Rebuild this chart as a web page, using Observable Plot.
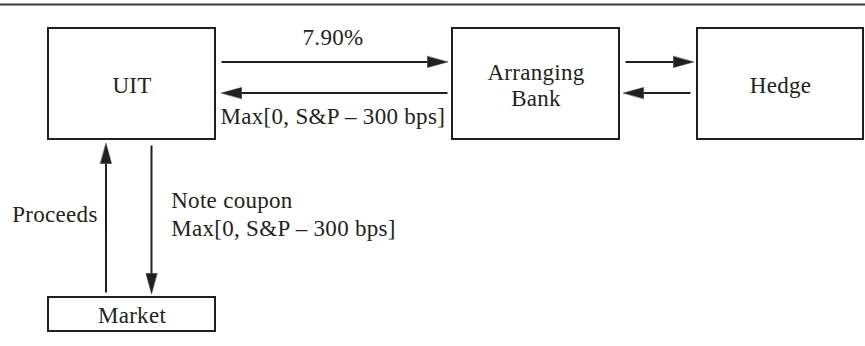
<!DOCTYPE html>
<html><head><meta charset="utf-8">
<script src="https://cdn.jsdelivr.net/npm/d3@7"></script>
<script src="https://cdn.jsdelivr.net/npm/@observablehq/plot@0.6"></script>
<style>html,body{margin:0;padding:0;background:#fff} svg{display:block}</style>
</head><body><div id="chart"></div>
<script>
// Diagram nodes (labels) and their layout boxes in diagram units
const nodeNames = ["UIT", "Arranging\nBank", "Hedge", "Market"];
const nodeLeft = [48, 452, 697, 48];
const nodeRight = [215, 619, 863, 215];
const nodeTop = [28, 28, 28, 297];
const nodeBottom = [139, 139, 139, 331];

// Flows between nodes: start and end points
const flowFromX = [221, 447, 625, 690, 105.5, 151];
const flowFromY = [61.5, 92.5, 61.5, 92.5, 292, 145];
const flowToX = [447, 221, 693, 623, 105.5, 151];
const flowToY = [61.5, 92.5, 61.5, 92.5, 143, 293];

// Flow labels
const labelTexts = ["7.90%", "Max[0, S&P \u2013 300 bps]", "Proceeds", "Note coupon", "Max[0, S&P \u2013 300 bps]"];
const labelX = [332.5, 220, 11.7, 170.7, 170.7];
const labelY = [37.6, 116.6, 214.3, 199.9, 227.9];
const labelAnchor = ["middle", "start", "start", "start", "start"];

const ink = "#231f20";
const W = 865, H = 346;
const headLen = 20, headHalf = 5.5;
const fs = 23;

const nodes = nodeNames.map((name, i) => ({
  name, x1: nodeLeft[i], x2: nodeRight[i], y1: nodeTop[i], y2: nodeBottom[i],
  cx: (nodeLeft[i] + nodeRight[i]) / 2, cy: (nodeTop[i] + nodeBottom[i]) / 2
}));

const flows = flowFromX.map((x, i) => {
  const x1 = x, y1 = flowFromY[i], x2 = flowToX[i], y2 = flowToY[i];
  const len = Math.hypot(x2 - x1, y2 - y1);
  const ux = (x2 - x1) / len, uy = (y2 - y1) / len;
  return {id: i, x1, y1, x2, y2, bx: x2 - ux * headLen, by: y2 - uy * headLen, ux, uy};
});
const heads = flows.flatMap(f => [
  {id: f.id, x: f.x2, y: f.y2},
  {id: f.id, x: f.bx - f.uy * headHalf, y: f.by + f.ux * headHalf},
  {id: f.id, x: f.bx + f.uy * headHalf, y: f.by - f.ux * headHalf}
]);
const labels = labelTexts.map((t, i) => ({t, x: labelX[i], y: labelY[i], a: labelAnchor[i]}));

const chart = Plot.plot({
  width: W, height: H,
  margin: 0,
  x: {domain: [0, W], range: [0, W], axis: null},
  y: {domain: [0, H], range: [0, H], axis: null},
  style: {fontFamily: "'Liberation Serif', serif", background: "#fff", color: ink, letterSpacing: "0.3px"},
  marks: [
    Plot.ruleY([4], {x1: 0, x2: W, stroke: "#3a3a3a", strokeWidth: 2.2}),
    Plot.rect(nodes, {x1: "x1", x2: "x2", y1: "y1", y2: "y2", fill: "none", stroke: ink, strokeWidth: 2}),
    Plot.text(nodes, {x: "cx", y: "cy", dy: 0.6, text: "name", fontSize: fs, fill: ink, lineHeight: 1.13}),
    Plot.link(flows, {x1: "x1", y1: "y1", x2: "bx", y2: "by", stroke: ink, strokeWidth: 2}),
    Plot.line(heads, {x: "x", y: "y", z: "id", fill: ink, stroke: ink, strokeWidth: 0.5, curve: "linear-closed"}),
    Plot.text(labels.filter(d => d.a === "middle"), {x: "x", y: "y", text: "t", fontSize: fs, fill: ink, textAnchor: "middle"}),
    Plot.text(labels.filter(d => d.a === "start"), {x: "x", y: "y", text: "t", fontSize: fs, fill: ink, textAnchor: "start"})
  ]
});
document.getElementById("chart").appendChild(chart);
</script>
</body></html>
